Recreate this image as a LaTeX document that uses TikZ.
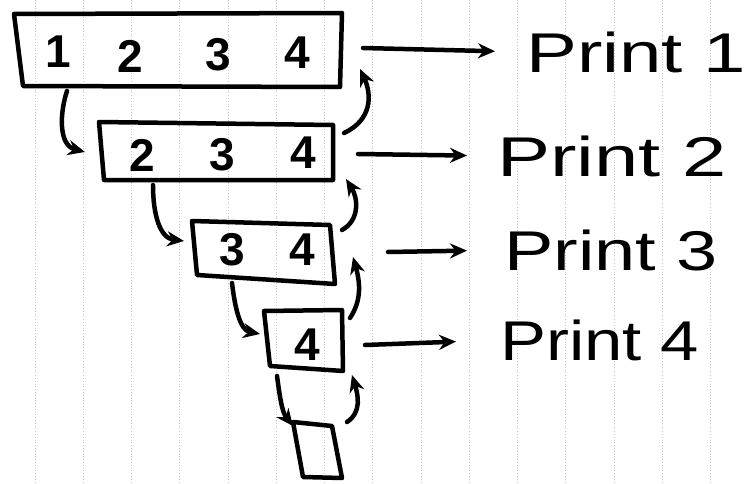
\documentclass[tikz,border=0pt]{standalone}
\usepackage{fontspec}
\setmainfont{Liberation Sans}
\usetikzlibrary{arrows.meta}
\begin{document}
\begin{tikzpicture}[x=1pt,y=-1pt,
  ink/.style={line width=4.5pt, line cap=round, line join=round},
  arr/.style={ink, -{Stealth[length=17pt,width=15pt]}},
  digit/.style={font=\fontsize{46}{46}\selectfont, inner sep=0pt},
  lbl/.style={anchor=west, font=\fontsize{56}{56}\selectfont, inner sep=0pt},
  paperline/.style={black!22, dotted, line width=0.8pt}]
\useasboundingbox (0,0) rectangle (752,484);
\fill[white] (0,0) rectangle (752,484);
\foreach \i in {0,...,14} \draw[paperline] ({35+48.25*\i},0) -- ({35+48.25*\i},484);

% box corners
\coordinate (b1tl) at (14,14);  \coordinate (b1tr) at (342,13);
\coordinate (b1br) at (340,87); \coordinate (b1bl) at (23,86);
\coordinate (b2tl) at (99,122); \coordinate (b2tr) at (333,125);
\coordinate (b2br) at (333,180);\coordinate (b2bl) at (104,180);
\coordinate (b3tl) at (192,221);\coordinate (b3tr) at (330,225);
\coordinate (b3br) at (335,284);\coordinate (b3bl) at (197,275);
\coordinate (b4tl) at (264,311);\coordinate (b4tr) at (342,310);
\coordinate (b4br) at (343,371);\coordinate (b4bl) at (270,366);
\coordinate (b5tl) at (293,422);\coordinate (b5tr) at (332,426);
\coordinate (b5br) at (342,478);\coordinate (b5bl) at (303,477);

\draw[ink] (b1tl) -- (b1tr) -- (b1br) -- (b1bl) -- cycle;
\draw[ink] (b2tl) -- (b2tr) -- (b2br) -- (b2bl) -- cycle;
\draw[ink] (b3tl) -- (b3tr) -- (b3br) -- (b3bl) -- cycle;
\draw[ink] (b4tl) -- (b4tr) -- (b4br) -- (b4bl) -- cycle;
\draw[ink] (b5tl) -- (b5tr) -- (b5br) -- (b5bl) -- cycle;

% digits
\node[digit] (d11) at (58,52) {\textbf{1}};
\node[digit] (d12) at (130,56) {\textbf{2}};
\node[digit] (d13) at (218,55) {\textbf{3}};
\node[digit] (d14) at (297,53) {\textbf{4}};
\node[digit] (d22) at (142,155) {\textbf{2}};
\node[digit] (d23) at (222,155) {\textbf{3}};
\node[digit] (d24) at (303,153) {\textbf{4}};
\node[digit] (d33) at (232,250) {\textbf{3}};
\node[digit] (d34) at (302,250) {\textbf{4}};
\node[digit] (d44) at (307,345) {\textbf{4}};

% down arrows (recursive calls)
\coordinate (a1s) at (67,91);   \coordinate (a1e) at (85,152);
\coordinate (a2s) at (153,185); \coordinate (a2e) at (184,241);
\coordinate (a3s) at (232,283); \coordinate (a3e) at (260,334);
\coordinate (a4s) at (277,376); \coordinate (a4e) at (293,426);
\draw[arr] (a1s) .. controls (60,112) and (58,145) .. (a1e);
\draw[arr] (a2s) .. controls (153,215) and (160,238) .. (a2e);
\draw[arr] (a3s) .. controls (235,308) and (240,330) .. (a3e);
\draw[arr] (a4s) .. controls (280,398) and (282,412) .. (a4e);

% up arrows (returns)
\coordinate (u1s) at (344,133); \coordinate (u1e) at (360,69);
\coordinate (u2s) at (342,230); \coordinate (u2e) at (346,179);
\coordinate (u3s) at (350,318); \coordinate (u3e) at (353,257);
\coordinate (u4s) at (347,422); \coordinate (u4e) at (352,375);
\draw[arr] (u1s) .. controls (372,120) and (372,95) .. (u1e);
\draw[arr] (u2s) .. controls (360,220) and (358,198) .. (u2e);
\draw[arr] (u3s) .. controls (362,300) and (360,282) .. (u3e);
\draw[arr] (u4s) .. controls (362,412) and (358,395) .. (u4e);

% print labels
\node[lbl] (p1) at (526,52) {\scalebox{1.36}[1]{Print 1}};
\node[lbl] (p2) at (497,156) {\scalebox{1.42}[1]{Print 2}};
\node[lbl] (p3) at (504,250) {\scalebox{1.32}[1]{Print 3}};
\node[lbl] (p4) at (500,340) {\scalebox{1.23}[1]{Print 4}};

\coordinate (q1) at (363,48);  \coordinate (q2) at (358,154);
\coordinate (q3) at (388,252); \coordinate (q4) at (365,345);
\draw[arr, shorten >=31pt] (q1) -- (p1.west);
\draw[arr, shorten >=30pt] (q2) -- (p2.west);
\draw[arr, shorten >=37pt] (q3) -- (p3.west);
\draw[arr, shorten >=44pt] (q4) -- (p4.west);
\end{tikzpicture}
\end{document}
